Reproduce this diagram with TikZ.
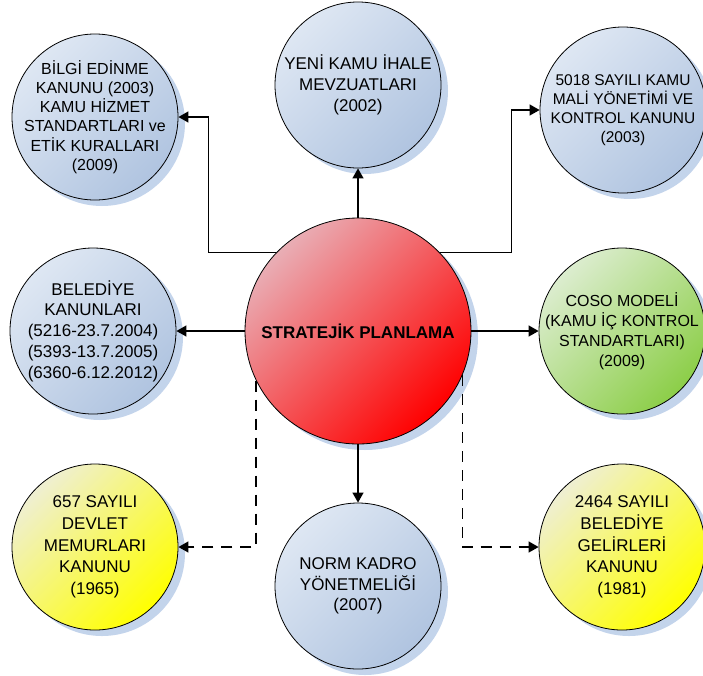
\documentclass[tikz,border=0pt]{standalone}
\usepackage{fontspec}
\setmainfont{Liberation Sans}
\usepackage{tikz}
\usetikzlibrary{arrows.meta,shadows}

\definecolor{bluelight}{HTML}{DEE7F3}
\definecolor{bluedark}{HTML}{B0C4E0}
\definecolor{redlight}{HTML}{E9AEB5}
\definecolor{redmid}{HTML}{F3343E}
\definecolor{greenlight}{HTML}{DCEDCF}
\definecolor{greendark}{HTML}{8CCE48}
\definecolor{yellowlight}{HTML}{EFEFD2}
\definecolor{shadowblue}{HTML}{B9CCE8}

\tikzset{
  law/.style={circle,draw,line width=0.8pt,inner sep=0pt,minimum size=166pt,
    drop shadow={shadow xshift=7pt,shadow yshift=-6pt,fill=shadowblue,opacity=0.85}},
  lawtext/.style={align=center,inner sep=0pt,font=\fontsize{17}{20.8}\selectfont},
  lawblue/.style={law,top color=bluelight,bottom color=bluedark,shading angle=45},
  lawgreen/.style={law,top color=greenlight,bottom color=greendark,shading angle=45},
  lawyellow/.style={law,top color=yellowlight,middle color=yellow!85!yellowlight,bottom color=yellow,shading angle=45},
  arr/.style={-{Triangle[length=10pt,width=11pt]},line width=1.3pt},
  dasharr/.style={arr,dash pattern=on 11pt off 8pt}
}

\begin{document}
\begin{tikzpicture}[x=1pt,y=-1pt]
\useasboundingbox (0,0) rectangle (703,675);

\node[law,minimum size=226pt,top color=redlight,middle color=redmid,bottom color=red,shading angle=45,
  label={[lawtext,font=\fontsize{17}{20}\selectfont\bfseries]center:STRATEJİK PLANLAMA}] (0) at (358,331){};
\node[lawblue,label={[lawtext,font=\fontsize{16}{19.3}\selectfont]center:BİLGİ EDİNME\\KANUNU (2003)\\KAMU HİZMET\\STANDARTLARI ve\\ETİK KURALLARI\\(2009)}] (1) at (95,117){};
\node[lawblue,label={[lawtext]center:YENİ KAMU İHALE\\MEVZUATLARI\\(2002)}] (2) at (358,85){};
\node[lawblue,label={[lawtext,font=\fontsize{15.5}{19}\selectfont]center:5018 SAYILI KAMU\\MALİ YÖNETİMİ VE\\KONTROL KANUNU\\(2003)}] (3) at (623,110){};
\node[lawblue,label={[lawtext]center:BELEDİYE\\KANUNLARI\\(5216-23.7.2004)\\(5393-13.7.2005)\\(6360-6.12.2012)}] (4) at (93,331){};
\node[lawgreen,label={[lawtext,font=\fontsize{16}{20}\selectfont]center:COSO MODELİ\\(KAMU İÇ KONTROL\\STANDARTLARI)\\(2009)}] (5) at (622,331){};
\node[lawyellow,label={[lawtext,font=\fontsize{17}{21.7}\selectfont]center:657 SAYILI\\DEVLET\\MEMURLARI\\KANUNU\\(1965)}] (6) at (95,547){};
\node[lawblue,label={[lawtext]center:NORM KADRO\\YÖNETMELİĞİ\\(2007)}] (7) at (358,586){};
\node[lawyellow,label={[lawtext,font=\fontsize{17}{21.7}\selectfont]center:2464 SAYILI\\BELEDİYE\\GELİRLERİ\\KANUNU\\(1981)}] (8) at (622,547){};

\draw[arr] (0.north) -- (2.south);
\draw[arr] (0.136) -| ([xshift=30pt]1.east) -- (1.east);
\draw[arr] (0.44) -| ([xshift=-28pt]3.west) -- (3.west);
\draw[arr] (0.west) -- (4.east);
\draw[arr] (0.east) -- (5.west);
\draw[arr] (0.south) -- (7.north);
\draw[dasharr] (0.206) |- (6.east);
\draw[dasharr] (0.-23) |- (8.west);

\end{tikzpicture}
\end{document}
